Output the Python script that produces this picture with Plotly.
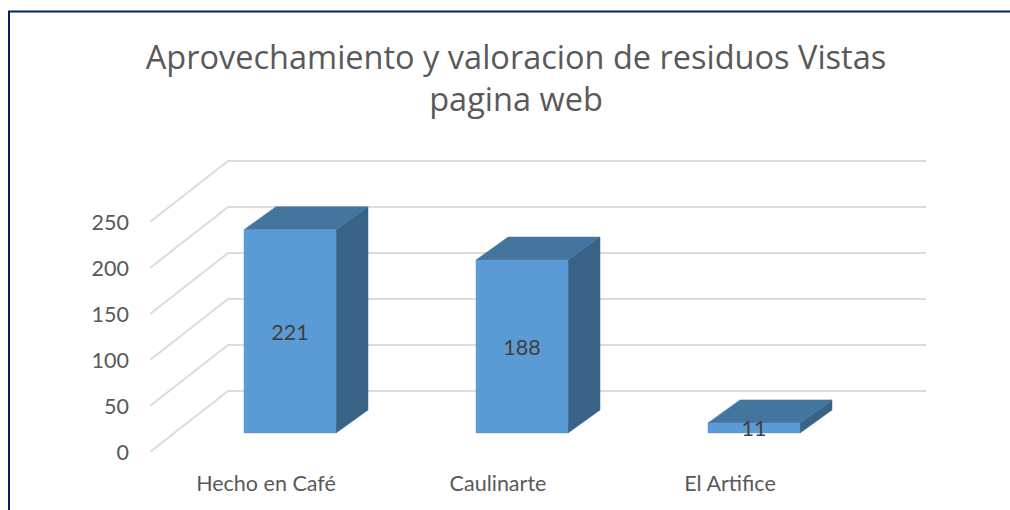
import plotly.graph_objects as go

categories = ["Hecho en Café", "Caulinarte", "El Artifice"]
views = [221, 188, 11]
tick_values = [0, 50, 100, 150, 200, 250]

title_text = "Aprovechamiento y valoracion de residuos Vistas<br>pagina web"

W, H = 1010, 510
L, R, T, B = 150, 84, 150, 58
PX_X = 232.0          # px per category
PX_Y = 46 / 50.0      # px per value unit
X_MIN = -0.5
X_MAX = X_MIN + (W - L - R) / PX_X
Y_MAX = (H - T - B) / PX_Y

WALL_DX = 78 / PX_X
WALL_DY = 61 / PX_Y
BASE_DX = 24 / PX_X
BASE_DY = 19 / PX_Y
HALF_W = 46 / PX_X
BAR_DX = 32 / PX_X
BAR_DY = 23 / PX_Y
LABEL_NUDGE = 3 / PX_Y

GRID = "#dcdcdc"
FRONT = "#5b9bd5"
TOP = "#44759f"
SIDE = "#386286"
TXT = "#595959"

fig = go.Figure()

# gridlines: side wall and back wall
gx, gy = [], []
for v in tick_values:
    gx += [X_MIN, X_MIN + WALL_DX, X_MAX, None]
    gy += [v, v + WALL_DY, v + WALL_DY, None]
fig.add_trace(go.Scatter(x=gx, y=gy, mode="lines", line=dict(color=GRID, width=2),
                         hoverinfo="skip", showlegend=False, cliponaxis=False))


def poly(xs, ys, color):
    fig.add_trace(go.Scatter(x=xs + xs[:1], y=ys + ys[:1], mode="lines", fill="toself",
                             fillcolor=color, line=dict(color=color, width=0.5),
                             hoverinfo="skip", showlegend=False, cliponaxis=False))


for i, v in enumerate(views):
    x0 = i + BASE_DX - HALF_W
    x1 = i + BASE_DX + HALF_W
    y0 = BASE_DY
    y1 = BASE_DY + v
    poly([x1, x1 + BAR_DX, x1 + BAR_DX, x1],
         [y0, y0 + BAR_DY, y1 + BAR_DY, y1], SIDE)
    poly([x0, x1, x1 + BAR_DX, x0 + BAR_DX],
         [y1, y1, y1 + BAR_DY, y1 + BAR_DY], TOP)
    poly([x0, x1, x1, x0], [y0, y0, y1, y1], FRONT)

fig.add_trace(go.Scatter(
    x=[i + BASE_DX for i in range(len(views))],
    y=[BASE_DY + v / 2 - LABEL_NUDGE for v in views],
    mode="text", text=[str(v) for v in views], textposition="middle center",
    textfont=dict(family="Lato", size=21.5, color="#404040"),
    hoverinfo="skip", showlegend=False, cliponaxis=False))

fig.update_layout(
    width=W, height=H, autosize=False,
    margin=dict(l=L, r=R, t=T, b=B, pad=0),
    paper_bgcolor="white", plot_bgcolor="white",
    showlegend=False,
    title=dict(text=title_text, x=516 / W, xanchor="center", xref="container",
               y=0.865, yanchor="top", yref="container",
               font=dict(family="Open Sans", size=32.5, color=TXT)),
    xaxis=dict(range=[X_MIN, X_MAX], tickmode="array", tickvals=list(range(len(categories))),
               ticktext=categories, showgrid=False, zeroline=False, showline=False,
               ticks="", tickfont=dict(family="Lato", size=21.5, color=TXT), ticklabelstandoff=16),
    yaxis=dict(range=[0, Y_MAX], tickmode="array", tickvals=tick_values,
               showgrid=False, zeroline=False, showline=False, ticks="",
               tickfont=dict(family="Lato", size=21.5, color=TXT), ticklabelstandoff=20),
    shapes=[dict(type="path", xref="paper", yref="paper",
                 path="M %f %f L %f %f L %f %f" % (
                     (9 - L) / (W - L - R), (H - B - (H + 5)) / (H - T - B),
                     (9 - L) / (W - L - R), (H - B - 11.5) / (H - T - B),
                     (W + 5 - L) / (W - L - R), (H - B - 11.5) / (H - T - B)),
                 line=dict(color="#002060", width=2), layer="above")],
)

fig.write_html("out.html", config={"displayModeBar": False},
               post_script="document.body.style.margin='0';document.body.style.overflow='hidden';")
